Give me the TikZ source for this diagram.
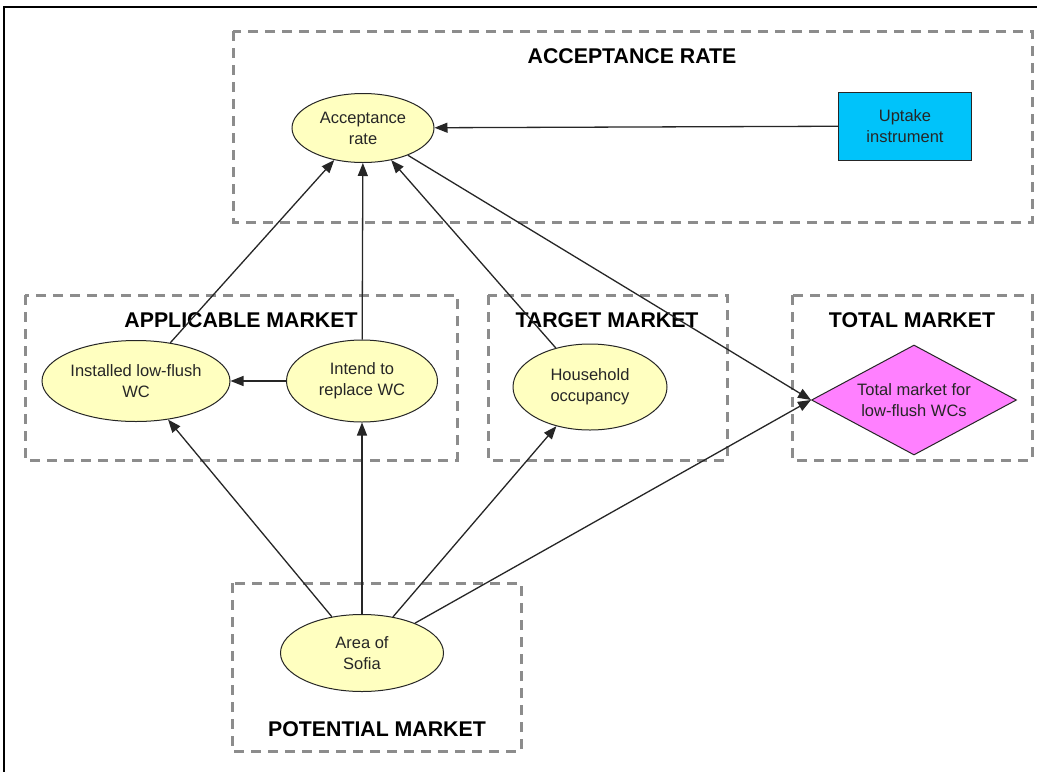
\documentclass[tikz,border=0pt]{standalone}
\usepackage{fontspec}
\setmainfont{Liberation Sans}
\usetikzlibrary{shapes.geometric,arrows.meta}
\definecolor{dashgray}{RGB}{140,140,140}
\definecolor{nodeyellow}{RGB}{255,255,192}
\definecolor{uptakeblue}{RGB}{0,195,250}
\definecolor{diamondpink}{RGB}{255,128,255}
\tikzset{
  groupbox/.style={draw=dashgray, line width=3pt, dash pattern=on 10pt off 7pt},
  grouptitle/.style={font=\bfseries\fontsize{21.3}{24}\selectfont, inner sep=0pt},
  nodefont/.style={font=\fontsize{16.5}{21}\selectfont, text=black!85, align=center},
  bubble/.style={ellipse, draw=black!85, line width=1pt, fill=nodeyellow, inner sep=0pt, nodefont},
  instrument/.style={rectangle, draw=black!85, line width=1pt, fill=uptakeblue, inner sep=0pt,
    nodefont, minimum width=133pt, minimum height=68pt},
  total/.style={diamond, shape aspect=1.86, draw=black!85, line width=1pt, fill=diamondpink, inner sep=0pt,
    nodefont, minimum width=205pt, minimum height=110pt},
  link/.style={draw=black!85, line width=1.3pt, -{Triangle[length=13pt,width=10pt]}}
}
\begin{document}
\begin{tikzpicture}[x=1pt,y=-1pt]
\useasboundingbox (0,0) rectangle (1037,772);
\fill[white] (0,0) rectangle (1037,772);
% outer frame
\draw[line width=1.5pt, black] (1037,7) -- (4,7) -- (4,772);

% group boxes
\draw[groupbox] (233,31) rectangle (1032,222);
\draw[groupbox] (25,295) rectangle (457,460);
\draw[groupbox] (488,295) rectangle (727,460);
\draw[groupbox] (792,295) rectangle (1032,460);
\draw[groupbox] (232,583) rectangle (521,751);

% group titles
\node[grouptitle] (tAcc) at (632,56) {ACCEPTANCE RATE};
\node[grouptitle] (tApp) at (241,320) {APPLICABLE MARKET};
\node[grouptitle] (tTar) at (607,320) {TARGET MARKET};
\node[grouptitle] (tTot) at (912,320) {TOTAL MARKET};
\node[grouptitle] (tPot) at (377,729) {POTENTIAL MARKET};

% nodes
\node[bubble, minimum width=142pt, minimum height=69pt] (acc) at (363,128) {Acceptance\\rate};
\node[instrument] (upt) at (905,126) {Uptake\\instrument};
\node[bubble, minimum width=188pt, minimum height=81pt] (inst) at (136,381) {Installed low-flush\\WC};
\node[bubble, minimum width=151pt, minimum height=82pt] (intend) at (362,381) {Intend to\\replace WC};
\node[bubble, minimum width=154pt, minimum height=86pt] (hh) at (590,387) {Household\\occupancy};
\node[total] (tm) at (914,400) {Total market for\\low-flush WCs};
\node[bubble, minimum width=163pt, minimum height=77pt] (sofia) at (362,653) {Area of\\Sofia};

% connectors
\draw[link] (upt) -- (acc);
\draw[link] (inst) -- (acc);
\draw[link] (intend) -- (acc);
\draw[link] (hh) -- (acc);
\draw[link] (acc) -- (tm.west);
\draw[link] (intend) -- (inst);
\draw[link] (sofia) -- (inst);
\draw[link] (sofia) -- (intend);
\draw[link] (sofia) -- (hh);
\draw[link] (sofia) -- (tm.west);
\end{tikzpicture}
\end{document}
